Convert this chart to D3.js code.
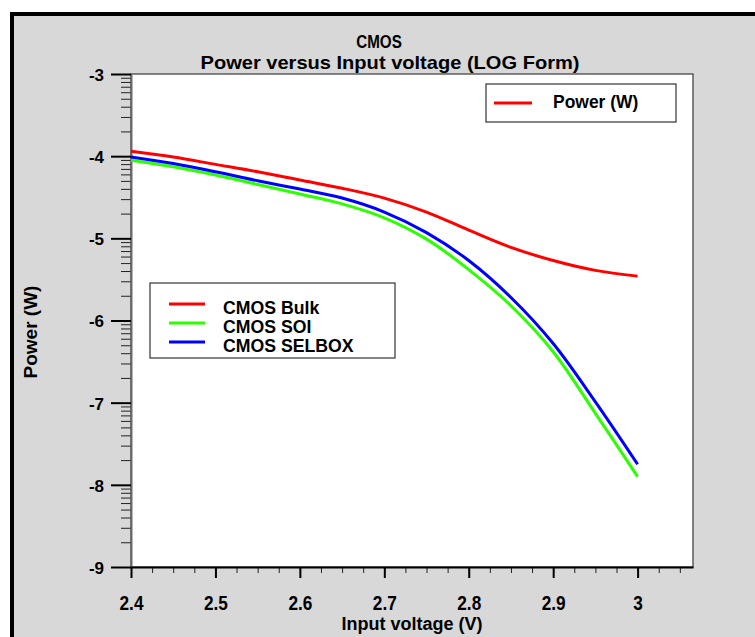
<!DOCTYPE html>
<html>
<head>
<meta charset="utf-8">
<script src="https://cdn.jsdelivr.net/npm/d3@7"></script>
<style>
  html, body { margin: 0; padding: 0; background: #ffffff; }
  svg { display: block; }
  text { font-family: "Liberation Sans", Arial, Helvetica, sans-serif; font-weight: bold; fill: #000; }
</style>
</head>
<body>
<svg id="chart" width="755" height="637"></svg>
<script>
// Input voltage sweep (V)
const voltage = [2.40, 2.45, 2.50, 2.55, 2.60, 2.65, 2.70, 2.75, 2.80, 2.85, 2.90, 2.95, 3.00];
// log10 of power (W) for each device
const bulk   = [-3.94, -4.01, -4.10, -4.19, -4.29, -4.39, -4.51, -4.68, -4.90, -5.11, -5.27, -5.39, -5.46];
const soi    = [-4.05, -4.13, -4.23, -4.345, -4.46, -4.58, -4.75, -5.01, -5.38, -5.82, -6.38, -7.13, -7.90];
const selbox = [-4.01, -4.09, -4.19, -4.30, -4.40, -4.51, -4.68, -4.93, -5.27, -5.72, -6.28, -6.99, -7.75];

const seriesNames  = ["CMOS Bulk", "CMOS SOI", "CMOS SELBOX"];
const seriesColors = ["#ff0000", "#2bff00", "#0000ff"];
const xTicks = [2.4, 2.5, 2.6, 2.7, 2.8, 2.9, 3.0];
const yTicks = [-9, -8, -7, -6, -5, -4, -3];
const titleText = "CMOS";
const subtitleText = "Power versus Input voltage (LOG Form)";
const xTitle = "Input voltage (V)";
const yTitle = "Power (W)";
const quantityLegend = "Power (W)";

const svg = d3.select("#chart");

// Frame: gray panel with a heavy black edge on top and left
svg.append("rect").attr("x", 10).attr("y", 12).attr("width", 745).attr("height", 625).attr("fill", "#d8d8d8");
svg.append("rect").attr("x", 10).attr("y", 12).attr("width", 4).attr("height", 625).attr("fill", "#000");
svg.append("rect").attr("x", 10).attr("y", 12).attr("width", 745).attr("height", 4).attr("fill", "#000");

const plot = { left: 131, right: 693, top: 74, bottom: 567 };

const x = d3.scaleLinear().domain([2.4, 3.0656]).range([plot.left, plot.right]);
const y = d3.scaleLinear().domain([-9, -3]).range([plot.bottom, plot.top]);

// Plot area
svg.append("rect")
  .attr("x", plot.left).attr("y", plot.top)
  .attr("width", plot.right - plot.left).attr("height", plot.bottom - plot.top)
  .attr("fill", "#fff").attr("stroke", "#3a3a3a").attr("stroke-width", 1.2);

function condense(sel, k) {
  sel.each(function () {
    const w = this.getComputedTextLength();
    this.setAttribute("textLength", w * k);
    this.setAttribute("lengthAdjust", "spacingAndGlyphs");
  });
}

// Minor ticks on the log axis: n + log10(k), k = 2..9
const yMinor = [];
for (let n = -9; n < -3; n++) for (let k = 2; k <= 9; k++) yMinor.push(n + Math.log10(k));
const xMinor = d3.range(0, 27).map(i => 2.4 + i * 0.025).filter(v => x(v) <= plot.right);

// Y axis
const gyMinor = svg.append("g").attr("transform", `translate(${plot.left},0)`)
  .call(d3.axisLeft(y).tickValues(yMinor).tickSize(10).tickSizeOuter(0).tickFormat(""));
gyMinor.select(".domain").remove();
gyMinor.selectAll(".tick line").attr("stroke", "#222").attr("stroke-width", 1);

const gy = svg.append("g").attr("transform", `translate(${plot.left},0)`)
  .call(d3.axisLeft(y).tickValues(yTicks).tickSize(20).tickSizeOuter(0).tickPadding(7)
    .tickFormat(d => String(d)));
gy.select(".domain").attr("stroke", "#6a6a6a").attr("stroke-width", 2);
gy.selectAll(".tick line").attr("stroke", "#000").attr("stroke-width", 2);
gy.selectAll(".tick text").attr("font-size", 17).attr("dy", "0.38em")
  .style("font-family", "'Liberation Sans', Arial, sans-serif").style("font-weight", "bold");

// X axis
const gxMinor = svg.append("g").attr("transform", `translate(0,${plot.bottom})`)
  .call(d3.axisBottom(x).tickValues(xMinor).tickSize(6).tickSizeOuter(0).tickFormat(""));
gxMinor.select(".domain").remove();
gxMinor.selectAll(".tick line").attr("stroke", "#222").attr("stroke-width", 1);

const gx = svg.append("g").attr("transform", `translate(0,${plot.bottom})`)
  .call(d3.axisBottom(x).tickValues(xTicks).tickSize(11).tickSizeOuter(0).tickPadding(17)
    .tickFormat(d => String(+d.toFixed(1))));
gx.select(".domain").attr("stroke", "#000").attr("stroke-width", 2);
gx.selectAll(".tick line").attr("stroke", "#000").attr("stroke-width", 2);
gx.selectAll(".tick text").attr("font-size", 21)
  .style("font-family", "'Liberation Sans', Arial, sans-serif").style("font-weight", "bold")
  .call(condense, 0.82);

// Titles
svg.append("text").attr("x", 379).attr("y", 48).attr("text-anchor", "middle")
  .attr("font-size", 19).text(titleText).call(condense, 0.8);
svg.append("text").attr("x", 390).attr("y", 69).attr("text-anchor", "middle")
  .attr("font-size", 19).attr("textLength", 379).attr("lengthAdjust", "spacingAndGlyphs")
  .text(subtitleText);
svg.append("text").attr("x", 412).attr("y", 630).attr("text-anchor", "middle")
  .attr("font-size", 18).text(xTitle);
svg.append("text").attr("transform", "translate(37,332) rotate(-90)").attr("text-anchor", "middle")
  .attr("font-size", 19).text(yTitle);

// Curves
const series = [bulk, soi, selbox];
const line = d3.line()
  .x((d, i) => x(voltage[i]))
  .y(d => y(d))
  .curve(d3.curveCatmullRom.alpha(0.5));

svg.append("g").selectAll("path")
  .data(series)
  .join("path")
  .attr("d", d => line(d))
  .attr("fill", "none")
  .attr("stroke", (d, i) => seriesColors[i])
  .attr("stroke-width", 3)
  .attr("stroke-linejoin", "round");

// Quantity legend (top right)
const lg1 = svg.append("g");
lg1.append("rect").attr("x", 486).attr("y", 84).attr("width", 190).attr("height", 38)
  .attr("fill", "#fff").attr("stroke", "#333").attr("stroke-width", 1.2);
lg1.append("line").attr("x1", 494).attr("x2", 532).attr("y1", 103).attr("y2", 103)
  .attr("stroke", "#ff0000").attr("stroke-width", 3);
lg1.append("text").attr("x", 553).attr("y", 108).attr("font-size", 18).text(quantityLegend)
  .call(condense, 0.97);

// Device legend
const lg2 = svg.append("g");
lg2.append("rect").attr("x", 150).attr("y", 283).attr("width", 245).attr("height", 75)
  .attr("fill", "#fff").attr("stroke", "#333").attr("stroke-width", 1.2);
seriesNames.forEach((name, i) => {
  const cy = 304 + i * 19;
  lg2.append("line").attr("x1", 169).attr("x2", 205).attr("y1", cy).attr("y2", cy)
    .attr("stroke", seriesColors[i]).attr("stroke-width", 3);
  lg2.append("text").attr("x", 223).attr("y", cy + 10).attr("font-size", 19).text(name)
    .call(condense, 0.93);
});
</script>
</body>
</html>
